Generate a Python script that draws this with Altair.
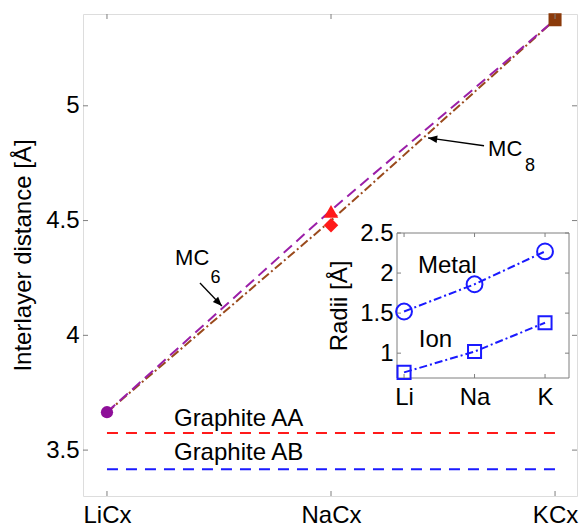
import json
import altair as alt
import pandas as pd

# ---------------- data ----------------
compounds = ["LiCx", "NaCx", "KCx"]
mc6_distance = [3.665, 4.545, 5.375]
mc8_distance = [3.665, 4.50, 5.375]
li_point = [3.665]
na_mc6_point = [4.54]
na_mc8_point = [4.48]
k_point = [5.375]
graphite_aa = [3.574, 3.574]
graphite_ab = [3.417, 3.417]
main_yticks = [3.5, 4, 4.5, 5]

elements = ["Li", "Na", "K"]
metal_radii = [1.52, 1.86, 2.27]
ion_radii = [0.76, 1.02, 1.38]
inset_yticks = [1, 1.5, 2, 2.5]

# annotation labels (text, x in compound index, y in Angstrom, font size)
ann_text = ["MC", "6", "MC", "8", "Graphite AA", "Graphite AB"]
ann_x = [0.304, 0.462, 1.701, 1.866, 0.299, 0.299]
ann_y = [4.307, 4.228, 4.782, 4.716, 3.604, 3.456]
ann_size = [22, 18, 22, 18, 24, 24]

# arrows (start -> tip), tip angle in degrees
arr_x0 = [0.415, 1.683]
arr_y0 = [4.228, 4.826]
arr_x1 = [0.513, 1.433]
arr_y1 = [4.128, 4.860]
arr_angle = [136, 278]

inset_text = ["Metal", "Ion"]
inset_text_x = [0.198, 0.21]
inset_text_y = [2.0, 1.075]

# ---------------- layout ----------------
W, H = 494, 482
FONT = "Liberation Sans"
FRAME = "#7f7f7f"
PURPLE = "#9b1fa8"
BROWN = "#9a4a1c"
BROWN_M = "#8b3a0a"
RED = "#ff1a1a"
BLUE = "#1a1aff"

IX0, IX1, IY0, IY1 = 314, 486, 219, 364  # inset box in plot pixels

idx = list(range(len(compounds)))

x_main = alt.Scale(domain=[-0.107, 2.098], nice=False, zero=False)
y_main = alt.Scale(domain=[3.3, 5.4], nice=False, zero=False)
x_axis_main = alt.Axis(values=idx, labelExpr=f"{json.dumps(compounds)}[datum.value]",
                       ticks=False, domain=False, grid=False, labelFontSize=24,
                       labelPadding=7, title=None, labelColor="black")
y_axis_main = alt.Axis(values=main_yticks, format="~g", ticks=False, domain=False,
                       grid=False, labelFontSize=24, labelPadding=4,
                       title="Interlayer distance [Å]", titleFontSize=24,
                       titleFontWeight="normal", titlePadding=10, labelColor="black",
                       titleColor="black")


def MX(f="x"):
    return alt.X(f"{f}:Q", scale=x_main, axis=x_axis_main)


def MY(f="y"):
    return alt.Y(f"{f}:Q", scale=y_main, axis=y_axis_main)


lines_df = pd.DataFrame({"x": idx * 2, "y": mc6_distance + mc8_distance,
                         "s": ["MC6"] * 3 + ["MC8"] * 3})
mc6_line = alt.Chart(lines_df).transform_filter("datum.s == 'MC6'").mark_line(
    color=PURPLE, strokeWidth=2, strokeDash=[11, 6]).encode(x=MX(), y=MY())
mc8_line = alt.Chart(lines_df).transform_filter("datum.s == 'MC8'").mark_line(
    color=BROWN, strokeWidth=2, strokeDash=[9, 3, 2, 3]).encode(x=MX(), y=MY())

g_df = pd.DataFrame({"x": [0, 2, 0, 2], "y": graphite_aa + graphite_ab,
                     "g": ["AA", "AA", "AB", "AB"]})
aa_line = alt.Chart(g_df).transform_filter("datum.g == 'AA'").mark_line(
    color=RED, strokeWidth=2, strokeDash=[11, 8]).encode(x=MX(), y=MY())
ab_line = alt.Chart(g_df).transform_filter("datum.g == 'AB'").mark_line(
    color=BLUE, strokeWidth=2, strokeDash=[11, 8]).encode(x=MX(), y=MY())

li_pt = alt.Chart(pd.DataFrame({"x": [0], "y": li_point})).mark_point(
    shape="circle", filled=True, opacity=1, size=150, color="#8e0f99").encode(x=MX(), y=MY())
k_pt = alt.Chart(pd.DataFrame({"x": [2], "y": k_point})).mark_point(
    shape="square", filled=True, opacity=1, size=170, color=BROWN_M).encode(x=MX(), y=MY())
na_tri = alt.Chart(pd.DataFrame({"x": [1], "y": na_mc6_point})).mark_point(
    shape="triangle-up", filled=True, opacity=1, size=210, color=RED).encode(x=MX(), y=MY())
na_dia = alt.Chart(pd.DataFrame({"x": [1], "y": na_mc8_point})).mark_point(
    shape="diamond", filled=True, opacity=1, size=210, color=RED).encode(x=MX(), y=MY())

ann_df = pd.DataFrame({"x": ann_x, "y": ann_y, "t": ann_text, "fs": ann_size})
ann = alt.Chart(ann_df).mark_text(align="left", baseline="alphabetic", font=FONT,
                                  color="black").encode(
    x=MX(), y=MY(), text="t:N", size=alt.Size("fs:Q", scale=None))

arr_df = pd.DataFrame({"x": arr_x0, "y": arr_y0, "x2": arr_x1, "y2": arr_y1,
                       "ang": arr_angle})
arr_line = alt.Chart(arr_df).mark_rule(color="black", strokeWidth=1.3).encode(
    x=MX(), y=MY(), x2="x2:Q", y2="y2:Q")
arr_head = alt.Chart(arr_df).mark_point(
    shape="M0,0L-0.4,1L0.4,1Z", filled=True, opacity=1, size=340, color="black").encode(
    x=MX("x2"), y=MY("y2"), angle=alt.Angle("ang:Q", scale=None))

# inward ticks for main frame
xt_df = pd.DataFrame({"x": idx})
yt_df = pd.DataFrame({"y": main_yticks})
tk = dict(color=FRAME, strokeWidth=1)
mt_b = alt.Chart(xt_df).mark_rule(**tk).encode(x=MX(), y=alt.value(H), y2=alt.value(H - 5))
mt_t = alt.Chart(xt_df).mark_rule(**tk).encode(x=MX(), y=alt.value(0), y2=alt.value(5))
mt_l = alt.Chart(yt_df).mark_rule(**tk).encode(y=MY(), x=alt.value(0), x2=alt.value(5))
mt_r = alt.Chart(yt_df).mark_rule(**tk).encode(y=MY(), x=alt.value(W), x2=alt.value(W - 5))

main = alt.layer(aa_line, ab_line, mc8_line, mc6_line, li_pt, k_pt, na_tri, na_dia,
                 ann, arr_line, arr_head, mt_b, mt_t, mt_l, mt_r)

# ---------------- inset ----------------
x_in = alt.Scale(domain=[-0.1, 2.34], range=[IX0, IX1], nice=False, zero=False)
y_in = alt.Scale(domain=[0.69, 2.5], range=[IY1, IY0], nice=False, zero=False)
x_axis_in = alt.Axis(orient="bottom", offset=IY1 - H, values=idx,
                     labelExpr=f"{json.dumps(elements)}[datum.value]", ticks=False,
                     domain=False, grid=False, labelFontSize=24, labelPadding=7,
                     title=None, labelColor="black")
y_axis_in = alt.Axis(orient="left", offset=-IX0, values=inset_yticks, format="~g",
                     ticks=False, domain=False, grid=False, labelFontSize=24,
                     labelPadding=4, title="Radii [Å]", titleFontSize=24,
                     titleFontWeight="normal", titlePadding=8, labelColor="black",
                     titleColor="black")


def IXE(f="x"):
    return alt.X(f"{f}:Q", scale=x_in, axis=x_axis_in)


def IYE(f="y"):
    return alt.Y(f"{f}:Q", scale=y_in, axis=y_axis_in)


bg = alt.Chart(pd.DataFrame({"a": [0]})).mark_rect(
    fill="white", stroke=FRAME, strokeWidth=1).encode(
    x=alt.value(IX0), x2=alt.value(IX1), y=alt.value(IY0), y2=alt.value(IY1))

rad_df = pd.DataFrame({"x": idx * 2, "y": metal_radii + ion_radii,
                       "k": ["Metal"] * 3 + ["Ion"] * 3})
metal_line = alt.Chart(rad_df).transform_filter("datum.k == 'Metal'").mark_line(
    color=BLUE, strokeWidth=2, strokeDash=[8, 3, 2, 3]).encode(x=IXE(), y=IYE())
ion_line = alt.Chart(rad_df).transform_filter("datum.k == 'Ion'").mark_line(
    color=BLUE, strokeWidth=2, strokeDash=[8, 3, 2, 3]).encode(x=IXE(), y=IYE())
metal_pts = alt.Chart(rad_df).transform_filter("datum.k == 'Metal'").mark_point(
    shape="circle", filled=False, size=250, strokeWidth=2, color=BLUE, opacity=1).encode(
    x=IXE(), y=IYE())
ion_pts = alt.Chart(rad_df).transform_filter("datum.k == 'Ion'").mark_point(
    shape="square", filled=False, size=170, strokeWidth=2, color=BLUE, opacity=1).encode(
    x=IXE(), y=IYE())
in_txt = alt.Chart(pd.DataFrame({"x": inset_text_x, "y": inset_text_y, "t": inset_text})).mark_text(
    align="left", baseline="alphabetic", font=FONT, fontSize=24, color="black").encode(
    x=IXE(), y=IYE(), text="t:N")

ixt = pd.DataFrame({"x": idx})
iyt = pd.DataFrame({"y": inset_yticks})
it_b = alt.Chart(ixt).mark_rule(**tk).encode(x=IXE(), y=alt.value(IY1), y2=alt.value(IY1 - 4))
it_t = alt.Chart(ixt).mark_rule(**tk).encode(x=IXE(), y=alt.value(IY0), y2=alt.value(IY0 + 4))
it_l = alt.Chart(iyt).mark_rule(**tk).encode(y=IYE(), x=alt.value(IX0), x2=alt.value(IX0 + 4))
it_r = alt.Chart(iyt).mark_rule(**tk).encode(y=IYE(), x=alt.value(IX1), x2=alt.value(IX1 - 4))

inset = alt.layer(bg, metal_line, ion_line, metal_pts, ion_pts, in_txt, it_b, it_t, it_l, it_r)

chart = alt.layer(main, inset).resolve_scale(x="independent", y="independent").properties(
    width=W, height=H, autosize="none",
    padding={"left": 83, "top": 14, "right": 2, "bottom": 31},
).configure_view(stroke=FRAME, strokeWidth=1).configure_axis(
    labelFont=FONT, titleFont=FONT).configure(background="white")

chart.save("out.html", embed_options={"renderer": "svg", "actions": False})
